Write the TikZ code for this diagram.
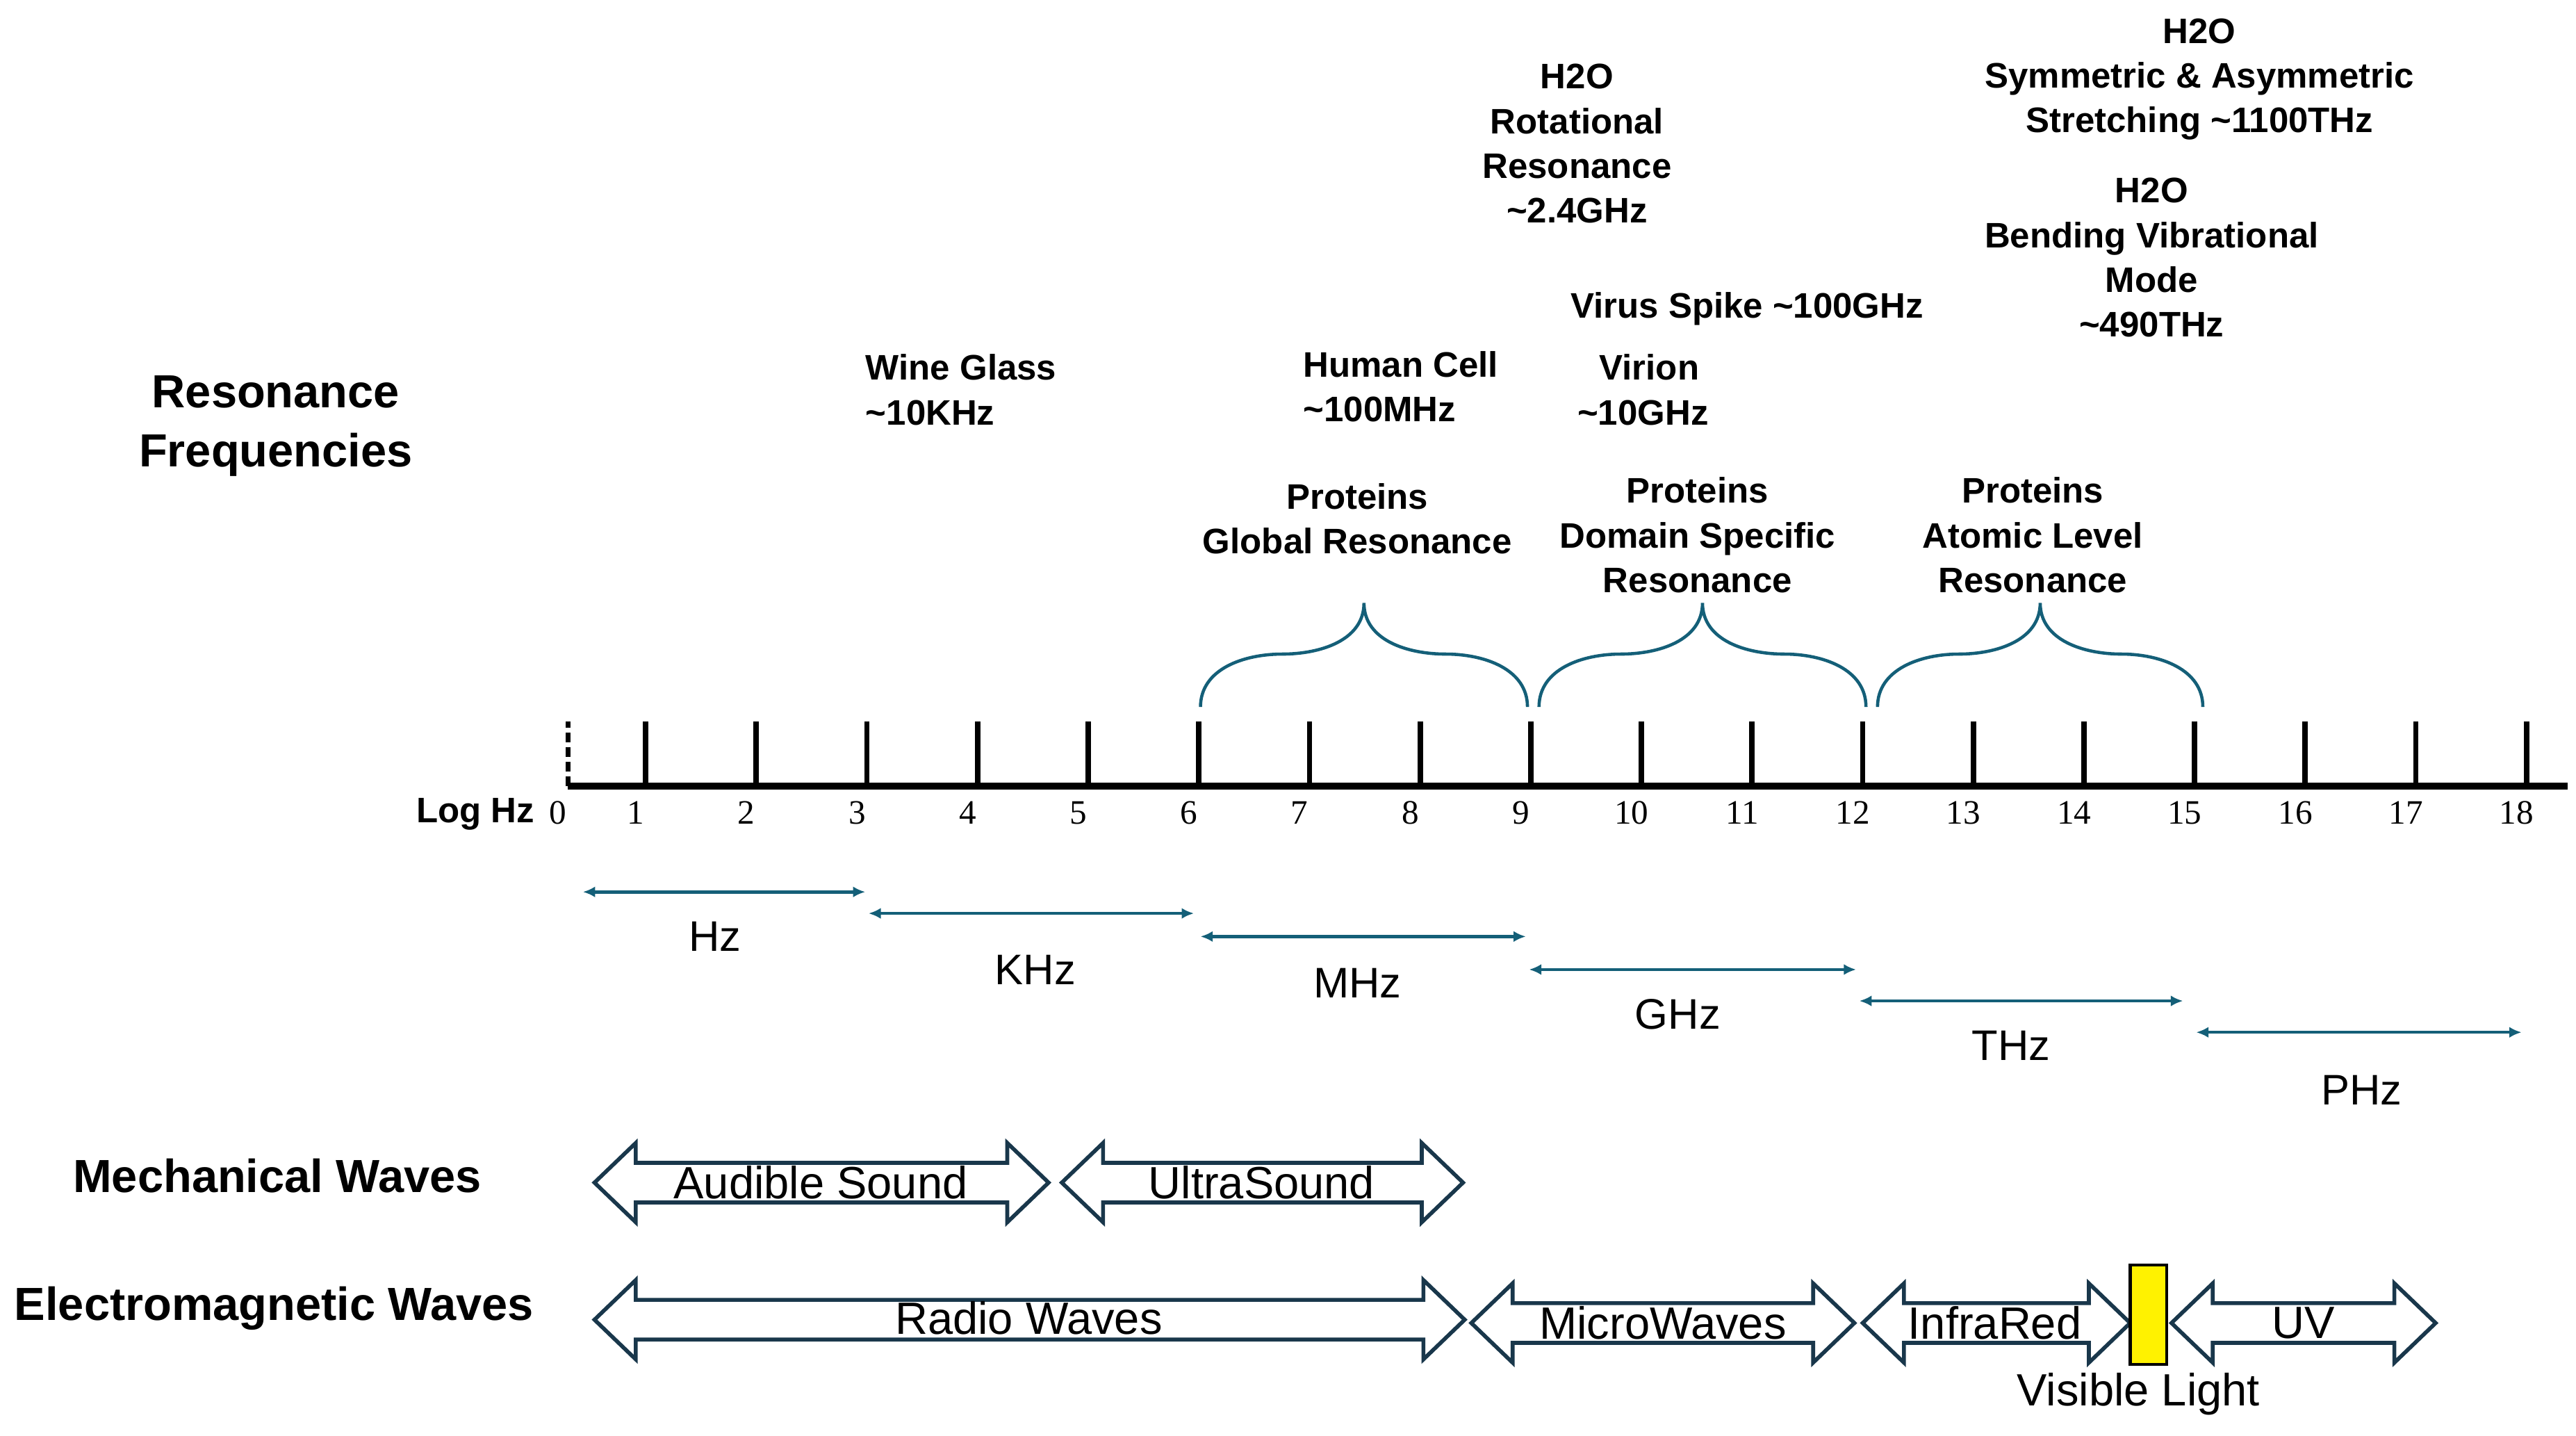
\documentclass[tikz,border=0pt]{standalone}
\usepackage{fontspec}
\setmainfont{Liberation Sans}
\newfontfamily\tnr{Liberation Serif}
\usetikzlibrary{arrows.meta}
\definecolor{tealc}{RGB}{20,95,120}
\definecolor{darkc}{RGB}{25,55,75}
\begin{document}
\begin{tikzpicture}[x=0.02376cm,y=-0.02376cm,
 lbl/.style={font=\bfseries\fontsize{14.5}{18.3}\selectfont,align=center,inner sep=0},
 big/.style={font=\bfseries\fontsize{19}{24}\selectfont,align=center,inner sep=0},
 num/.style={font=\tnr\fontsize{14}{16}\selectfont,inner sep=0},
 unit/.style={font=\fontsize{17.5}{18}\selectfont,inner sep=0},
 wav/.style={font=\fontsize{18.5}{20}\selectfont,inner sep=0},
 rng/.style={tealc,line width=1.3pt,{Latex[length=5pt,width=4.5pt]}-{Latex[length=5pt,width=4.5pt]}},
 brace/.style={tealc,line width=1.3pt},
 tick/.style={line width=2.2pt}]
\useasboundingbox (0,0) rectangle (1560,869);
% axis
\draw[line width=2.8pt] (344,476) -- (1555,476);
\draw[line width=2pt,dash pattern=on 4pt off 2pt] (344,476) -- (344,437);
\foreach \i in {1,...,18}{
  \pgfmathsetmacro\tx{391+(\i-1)*67}
  \pgfmathsetmacro\lx{385+(\i-1)*67}
  \draw[tick] (\tx,476) -- (\tx,437);
  \node[num] (n\i) at (\lx,492) {\i};
}
\node[num] (n0) at (338,492) {0};
\node[lbl] (loghz) at (288,493) {Log Hz};
% braces
\foreach \a/\b in {727/925,932/1130,1137/1334}{
  \pgfmathsetmacro\m{(\a+\b)/2}
  \pgfmathsetmacro\l{(\a+\m)/2}
  \pgfmathsetmacro\r{(\b+\m)/2}
  \draw[brace] (\a,428) to[out=90,in=180] (\l,396) to[out=0,in=-90] (\m,365)
     to[out=-90,in=180] (\r,396) to[out=0,in=90] (\b,428);
}
% ranges
\draw[rng] (353,540) -- (524,540); \node[unit] (hz) at (433,567) {Hz};
\draw[rng] (526,553) -- (723,553); \node[unit] (khz) at (627,587) {KHz};
\draw[rng] (727,567) -- (924,567); \node[unit] (mhz) at (822,595) {MHz};
\draw[rng] (926,587) -- (1124,587); \node[unit] (ghz) at (1016,614) {GHz};
\draw[rng] (1126,606) -- (1322,606); \node[unit] (thz) at (1218,633) {THz};
\draw[rng] (1330,625) -- (1527,625); \node[unit] (phz) at (1430,660) {PHz};
% double arrows
\newcommand\dbl[3]{%
 \draw[darkc,line width=1.6pt,fill=white] (#1,#3) -- (#1+25,#3-24) -- (#1+25,#3-12) -- (#2-25,#3-12) -- (#2-25,#3-24)
  -- (#2,#3) -- (#2-25,#3+24) -- (#2-25,#3+12) -- (#1+25,#3+12) -- (#1+25,#3+24) -- cycle;}
\dbl{360}{635}{716} \node[wav] (aud) at (497,716) {Audible Sound};
\dbl{643}{886}{716} \node[wav] (us) at (764,716) {UltraSound};
\dbl{360}{887}{799} \node[wav] (radio) at (623,798) {Radio Waves};
\dbl{891}{1123}{801} \node[wav] (micro) at (1007,801) {MicroWaves};
\dbl{1128}{1290}{801} \node[wav] (ir) at (1208,801) {InfraRed};
\dbl{1315}{1475}{801} \node[wav] (uv) at (1395,801) {UV};
\draw[black,line width=1.2pt,fill=yellow] (1290,766) rectangle (1312,826);
\node[wav] (vis) at (1295,844) {Visible Light};
% left labels
\node[big] (resf) at (167,258) {Resonance\\Frequencies};
\node[big] (mech) at (168,712) {Mechanical Waves};
\node[big] (em) at (166,792) {Electromagnetic Waves};
% top labels
\node[lbl] (rot) at (955,87) {H2O\\Rotational\\Resonance\\\textasciitilde2.4GHz};
\node[lbl] (sym) at (1332,48) {H2O\\Symmetric \& Asymmetric\\Stretching \textasciitilde1100THz};
\node[lbl] (bend) at (1303,156) {H2O\\Bending Vibrational\\Mode\\\textasciitilde490THz};
\node[lbl] (virus) at (1058,187) {Virus Spike \textasciitilde100GHz};
\node[lbl,align=left,anchor=west] (virion) at (955,236) {\hspace{9pt}Virion\\\textasciitilde10GHz};
\node[lbl,align=left,anchor=west] (cell) at (789,234) {Human Cell\\\textasciitilde100MHz};
\node[lbl,align=left,anchor=west] (wine) at (524,236) {Wine Glass\\\textasciitilde10KHz};
\node[lbl] (pg) at (822,314) {Proteins\\Global Resonance};
\node[lbl] (pd) at (1028,324) {Proteins\\Domain Specific\\Resonance};
\node[lbl] (pa) at (1231,324) {Proteins\\Atomic Level\\Resonance};
\end{tikzpicture}
\end{document}
